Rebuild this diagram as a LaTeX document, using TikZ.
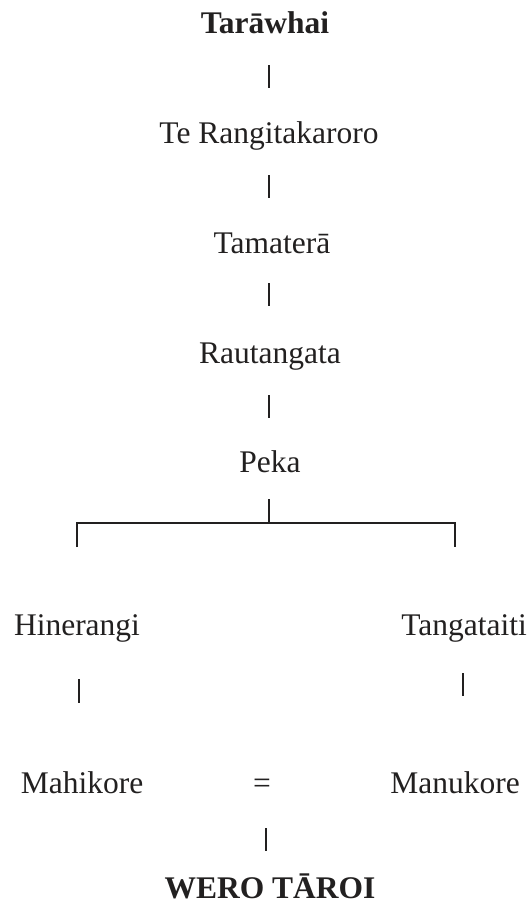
\documentclass[tikz,border=0pt]{standalone}
\usepackage{fontspec}
\setmainfont{Liberation Serif}
\definecolor{ink}{RGB}{34,32,32}
\begin{document}
\begin{tikzpicture}[x=1pt,y=-1pt,
  person/.style={anchor=base,inner sep=0pt,text=ink,font=\fontsize{31.5}{36}\selectfont},
  bperson/.style={person,font=\fontsize{31.5}{36}\selectfont\bfseries},
  link/.style={draw=ink,line width=1.4pt}]
\useasboundingbox (0,0) rectangle (530,906);
% names
\node[bperson] (tar) at (265,33) {Tarāwhai};
\node[person] (ter) at (269,143) {Te Rangitakaroro};
\node[person] (tam) at (272,253) {Tamaterā};
\node[person] (rau) at (270,363) {Rautangata};
\node[person] (pek) at (270,472) {Peka};
\node[person] (hin) at (77,635) {Hinerangi};
\node[person] (tan) at (464,635) {Tangataiti};
\node[person] (mah) at (82,793) {Mahikore};
\node[person] (eq) at (262,793) {=};
\node[person] (man) at (455,793) {Manukore};
\node[bperson] (wer) at (270,898) {WERO TĀROI};
% bar end points
\coordinate (b1t) at (269,65);  \coordinate (b1b) at (269,88);
\coordinate (b2t) at (269,175); \coordinate (b2b) at (269,198);
\coordinate (b3t) at (269,283); \coordinate (b3b) at (269,306);
\coordinate (b4t) at (269,395); \coordinate (b4b) at (269,418);
\coordinate (st) at (269,499);  \coordinate (sj) at (269,523);
\coordinate (lj) at (77,523);   \coordinate (le) at (77,547);
\coordinate (rj) at (455,523);  \coordinate (re) at (455,547);
\coordinate (h1) at (79,679);   \coordinate (h2) at (79,703);
\coordinate (t1) at (463,673);  \coordinate (t2) at (463,696);
\coordinate (w1) at (266,828);  \coordinate (w2) at (266,851);
% connectors
\draw[link] (b1t) -- (b1b);
\draw[link] (b2t) -- (b2b);
\draw[link] (b3t) -- (b3b);
\draw[link] (b4t) -- (b4b);
\draw[link] (st) -- (sj);
\draw[link] (le) -- (lj) -- (rj) -- (re);
\draw[link] (h1) -- (h2);
\draw[link] (t1) -- (t2);
\draw[link] (w1) -- (w2);
\end{tikzpicture}
\end{document}
